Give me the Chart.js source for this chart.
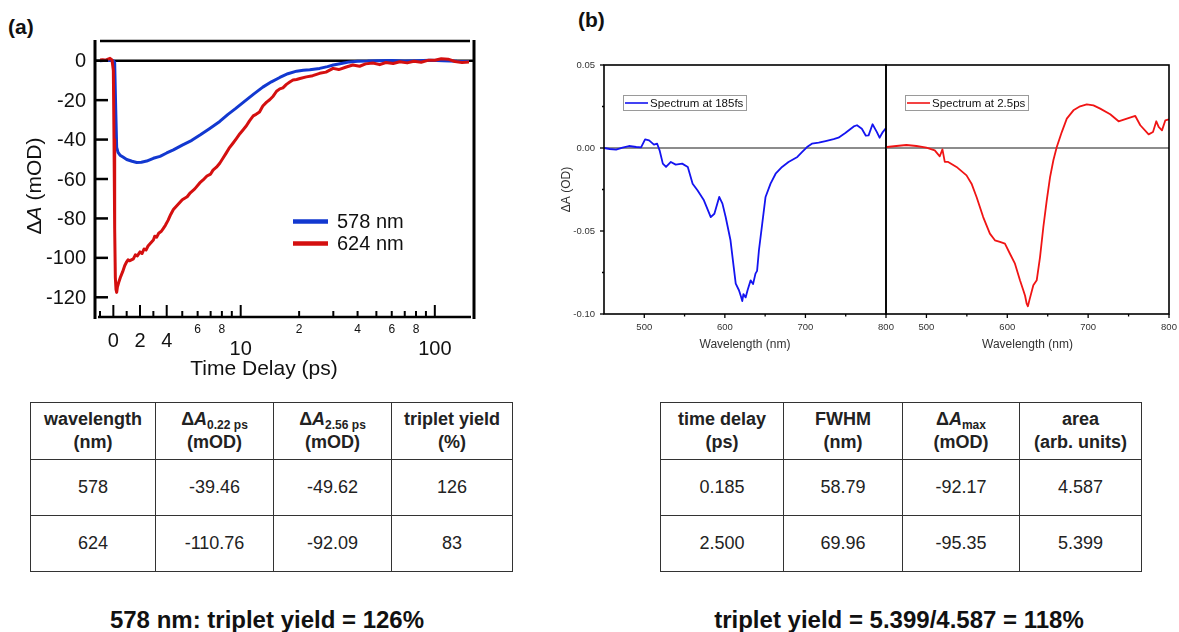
<!DOCTYPE html>
<html>
<head>
<meta charset="utf-8">
<script src="https://cdn.jsdelivr.net/npm/chart.js@4.4.1/dist/chart.umd.min.js"></script>
<style>
  html, body { margin: 0; padding: 0; background: #fff; }
  body { width: 1179px; height: 632px; position: relative; overflow: hidden;
         font-family: "Liberation Sans", Arial, sans-serif; color: #111; }
  canvas { position: absolute; }
  .panel { position: absolute; font-weight: bold; font-size: 21px; color: #111; }
  .tbl { position: absolute; border-collapse: collapse; table-layout: fixed;
         font-size: 18px; color: #222; }
  .tbl td, .tbl th { border: 1px solid #333; text-align: center; padding: 0; }
  .tbl th { font-weight: bold; line-height: 23px; }
  .tbl tr.hd { height: 57px; }
  .tbl tr.row { height: 56px; }
  .tbl sub { font-size: 12px; vertical-align: -4px; line-height: 0; }
  .note { position: absolute; width: 460px; text-align: center; font-weight: bold;
          font-size: 24px; line-height: 28px; color: #111; }
</style>
</head>
<body>
<div class="panel" style="left:8px;top:15px;">(a)</div>
<div class="panel" style="left:578px;top:8px;">(b)</div>
<canvas id="kinetics" width="560" height="390" style="left:0;top:0;"></canvas>
<canvas id="spec185" width="360" height="320" style="left:540px;top:40px;"></canvas>
<canvas id="spec2500" width="299" height="320" style="left:880px;top:40px;"></canvas>
<table id="tblKinetics" class="tbl" style="left:30px;top:402px;width:482px;"></table>
<table id="tblSpectra" class="tbl" style="left:660px;top:402px;width:481px;"></table>
<div class="note" style="left:37px;top:606px;">578 nm: triplet yield = 126%</div>
<div class="note" style="left:669px;top:606px;">triplet yield = 5.399/4.587 = 118%</div>

<script>
// ---------- (a) kinetic traces, ΔA in mOD vs time delay in ps ----------
const timeBlue = [-1, -0.5, 0, 0.1, 0.18, 0.25, 0.35, 0.5, 0.75,
  1.0, 1.4, 1.75, 2.1, 2.5, 3.0, 3.5, 4.0, 4.5, 5.0,
  5.6, 6.2, 6.9, 7.8, 8.6, 9.4, 10.5, 11.7, 13.0, 14.4,
  15.9, 17.5, 19.4, 21.0, 22.7, 25.5, 28, 30, 33, 36.4,
  40, 45, 50, 60, 70, 80, 95, 110, 130, 150];
const dA578 = [0, 0.2, 0, -1, -25, -44, -46.5, -47.9, -49,
  -50.1, -51, -51.6, -51.5, -50.9, -49.5, -48.5, -46.8, -45.2, -42.8,
  -40.4, -37.6, -34.5, -30.8, -27.2, -24.3, -20.5, -16.8, -13.4, -10.7,
  -8.5, -6.6, -5.3, -4.8, -4.6, -3.9, -3, -2.2, -1.4, -0.6,
  -0.3, -0.2, 0, 0.1, -0.2, 0, 0.2, 0, -0.3, -0.4];

const timeRed = [-1, -0.8, -0.6, -0.4, -0.25, -0.1, 0, 0.05, 0.1, 0.15,
  0.2, 0.25, 0.3, 0.4, 0.55, 0.7, 0.85, 1.0, 1.1, 1.2,
  1.5, 1.65, 1.8, 2.0, 2.15, 2.3, 2.45, 2.6, 2.8, 3.0,
  3.1, 3.25, 3.4, 3.6, 3.75, 3.9, 4.1, 4.3, 4.5, 5.0,
  5.3, 5.5, 5.8, 6.15, 6.4, 6.7, 7.0, 7.2, 7.5, 7.8,
  8.1, 8.4, 8.7, 9.1, 9.5, 9.9, 10.3, 10.7, 11.1, 11.6,
  12.0, 12.5, 13.0, 13.6, 14.1, 14.7, 15.3, 15.9, 16.5, 17.2,
  17.9, 18.6, 19.4, 20.2, 21.8, 23.5, 25.5, 27.5, 29.9, 32,
  35, 37.8, 41, 44, 48, 52, 56, 61, 66, 72,
  78, 85, 92, 100, 108, 117, 127, 138, 150];
const dA624 = [0.3, 0.5, 0.2, 0.8, 1.2, 0.4, -5, -40, -85, -110,
  -116, -117.5, -115, -112.5, -109.5, -107, -104, -102, -101, -101.5,
  -100.5, -98.5, -99, -97, -97.8, -95.5, -96, -94, -92.5, -91,
  -89, -89.5, -87.5, -86.5, -85, -83.5, -81, -78, -75.5, -70.5,
  -69, -67, -65, -62, -60.5, -58.5, -57.5, -55.5, -54, -52,
  -49.5, -47, -44.5, -42, -39.5, -37, -35, -33, -30.5, -28,
  -27.2, -26, -23, -21, -19.8, -18, -15.5, -14.3, -13.8, -12,
  -10.8, -9.8, -9.5, -9, -8.2, -7.6, -6.4, -5.8, -3.9, -4.5,
  -3.2, -2.2, -2.8, -1.6, -1.2, -2.0, -0.9, -1.4, -0.5, -1.1,
  -0.3, -0.8, 0.2, 0.2, 1.0, 0.8, -0.4, -0.9, -0.6];

const timeRange = [-1, 150];
const dARange = [-130, 10];
const dATicks = [0, -20, -40, -60, -80, -100, -120];
const timeMajorTicks = [0, 2, 4, 10, 100];
const timeMinorTicks = [-1, 1, 3, 5, 6, 7, 8, 9, 20, 30, 40, 50, 60, 70, 80, 90];
const timeLinearLabels = ['0', '2', '4'];         // at 0, 2, 4 ps
const timeDecadeLabels = ['10', '100'];           // at 10, 100 ps
const timeSmallTicks = [6, 8, 20, 40, 60, 80];
const timeSmallLabels = ['6', '8', '2', '4', '6', '8'];
const traceNames = ['578 nm', '624 nm'];

// ---------- (b) transient spectra, ΔA in OD vs wavelength ----------
const wl185 = [450, 457, 465, 473, 481, 490, 496, 501, 506, 512,
  516, 519, 523, 527, 533, 539, 547, 554, 560, 566,
  574, 582.5, 587, 593, 597, 601, 607, 611, 613.5, 617.5,
  620, 621.6, 623, 625.8, 628, 632, 635, 638, 640, 642.3,
  646.4, 650.5, 656.7, 663, 671, 679, 690, 696, 702, 708,
  716.5, 725, 735, 741, 749.5, 760, 764, 770, 775, 778.4,
  783.3, 788.7, 792, 796, 800];
const dA185 = [0, -0.0006, -0.001, 0.0002, 0.0012, 0.0006, 0.0004, 0.0052, 0.0046, 0.002,
  0.0026, -0.0014, -0.0094, -0.0114, -0.0084, -0.010, -0.0094, -0.0114, -0.0215, -0.0255,
  -0.0315, -0.0416, -0.0396, -0.0295, -0.0335, -0.0416, -0.0556, -0.0717, -0.0817, -0.0857,
  -0.0895, -0.0922, -0.0880, -0.0900, -0.0860, -0.0797, -0.0820, -0.0757, -0.0740, -0.0616,
  -0.0456, -0.0295, -0.0215, -0.0155, -0.0114, -0.0084, -0.0054, -0.0024, 0.0006, 0.0026,
  0.0032, 0.0042, 0.0054, 0.0062, 0.009, 0.013, 0.0137, 0.0116, 0.0074, 0.0076,
  0.0143, 0.0096, 0.0062, 0.0096, 0.012];

const wl2500 = [450, 451.2, 462.8, 475.2, 487.6, 500, 510.3, 516.5, 519.8, 522.7,
  526.9, 537.2, 549.6, 555.8, 562, 570.2, 578.5, 584.7, 590.9, 597.1,
  603.3, 609.5, 615.7, 619.8, 622, 624, 625.5, 627.3, 632.2, 636.4,
  640.5, 644.6, 648.8, 652.9, 657, 661.2, 667.4, 673.6, 681.8, 690.1,
  698.3, 706.6, 714.9, 727.3, 737.6, 747.9, 758.3, 764.5, 774.8, 780.2,
  784.3, 787.2, 791.3, 795.5, 800];
const dA2500 = [0.0005, 0.0006, 0.0012, 0.0018, 0.0012, 0.0002, -0.0014, -0.005, -0.0008, -0.0084,
  -0.0084, -0.0114, -0.0165, -0.0215, -0.0295, -0.0416, -0.0516, -0.0556, -0.0566, -0.0576,
  -0.0637, -0.0697, -0.0797, -0.0857, -0.0890, -0.0938, -0.09535, -0.0918, -0.0827, -0.0797,
  -0.0657, -0.0476, -0.0315, -0.0175, -0.0074, 0.0006, 0.0096, 0.0177, 0.0227, 0.0251,
  0.0263, 0.0257, 0.0237, 0.0203, 0.0161, 0.0177, 0.0193, 0.0137, 0.0082, 0.0096,
  0.0161, 0.0127, 0.0106, 0.0167, 0.0173];

const wlRange = [450, 800];
const odRange = [-0.10, 0.05];
const odTicks = [0.05, 0.00, -0.05, -0.10];
const odTickLabels = ['0.05', '0.00', '-0.05', '-0.10'];
const odMinorTicks = [0.025, -0.025, -0.075];
const wlTicks = [500, 600, 700, 800];
const wlMinorTicks = [550, 650, 750];
const spectrumNames = ['Spectrum at 185fs', 'Spectrum at 2.5ps'];

// ---------- tables ----------
const kinHeader = ['wavelength<br>(nm)', 'Δ<i>A</i><sub>0.22 ps</sub><br>(mOD)',
  'Δ<i>A</i><sub>2.56 ps</sub><br>(mOD)', 'triplet yield<br>(%)'];
const kinWavelength = ['578', '624'];
const kinDA022 = ['-39.46', '-110.76'];
const kinDA256 = ['-49.62', '-92.09'];
const kinYield = ['126', '83'];
const specHeader = ['time delay<br>(ps)', 'FWHM<br>(nm)', 'Δ<i>A</i><sub>max</sub><br>(mOD)',
  'area<br>(arb. units)'];
const specDelay = ['0.185', '2.500'];
const specFWHM = ['58.79', '69.96'];
const specDAmax = ['-92.17', '-95.35'];
const specArea = ['4.587', '5.399'];

function fillTable(id, widths, header, cols) {
  const t = document.getElementById(id);
  let html = '<colgroup>' + widths.map(w => `<col style="width:${w}px">`).join('') + '</colgroup>';
  html += '<tr class="hd">' + header.map(h => `<th>${h}</th>`).join('') + '</tr>';
  for (let r = 0; r < cols[0].length; r++) {
    html += '<tr class="row">' + cols.map(c => `<td>${c[r]}</td>`).join('') + '</tr>';
  }
  t.innerHTML = html;
}
fillTable('tblKinetics', [125, 118, 118, 121], kinHeader, [kinWavelength, kinDA022, kinDA256, kinYield]);
fillTable('tblSpectra', [123, 119, 117, 122], specHeader, [specDelay, specFWHM, specDAmax, specArea]);

// ---------- split time axis: linear up to 4.5 ps, logarithmic beyond ----------
const SPLIT = 4.5, DECADE = 14.55;
const toU = t => t <= SPLIT ? t : SPLIT + DECADE * Math.log10(t / SPLIT);
const fromU = u => u <= SPLIT ? u : SPLIT * Math.pow(10, (u - SPLIT) / DECADE);

class SplitTimeScale extends Chart.LinearScale {
  static id = 'splitTime';
  static defaults = {};
  configure() {
    super.configure();
    this._u0 = toU(this.min);
    this._u1 = toU(this.max);
  }
  getPixelForValue(value) {
    if (value === null || value === undefined) return NaN;
    return this.getPixelForDecimal((toU(value) - this._u0) / (this._u1 - this._u0));
  }
  getValueForPixel(pixel) {
    return fromU(this._u0 + this.getDecimalForPixel(pixel) * (this._u1 - this._u0));
  }
}
Chart.register(SplitTimeScale);

const FONT = '"Liberation Sans", Arial, sans-serif';
function seg(ctx, x1, y1, x2, y2) { ctx.beginPath(); ctx.moveTo(x1, y1); ctx.lineTo(x2, y2); ctx.stroke(); }

const BLUE = '#1238d0', RED = '#d40f0f';

const kineticsAxes = {
  id: 'kineticsAxes',
  beforeDatasetsDraw(chart) {
    const { ctx, chartArea: ca, scales: { y } } = chart;
    ctx.save();
    ctx.strokeStyle = '#000'; ctx.lineWidth = 2.5;
    const y0 = y.getPixelForValue(0);
    seg(ctx, ca.left - 5, y0, ca.right + 4, y0);
    ctx.restore();
  },
  afterDatasetsDraw(chart) {
    const { ctx, chartArea: ca, scales: { x, y } } = chart;
    ctx.save();
    ctx.strokeStyle = '#000'; ctx.fillStyle = '#111';
    // frame
    ctx.lineWidth = 3;
    seg(ctx, ca.left - 5, ca.top - 1, ca.left - 5, ca.bottom + 2);
    seg(ctx, ca.right + 5, ca.top - 1, ca.right + 5, ca.bottom + 2);
    ctx.lineWidth = 2.5;
    seg(ctx, ca.left, ca.top, ca.right + 1, ca.top);
    seg(ctx, ca.left - 2, ca.bottom, ca.right + 2, ca.bottom);
    // y ticks (inward) and labels
    ctx.font = '20px ' + FONT; ctx.textAlign = 'right'; ctx.textBaseline = 'middle';
    dATicks.forEach(v => {
      const py = y.getPixelForValue(v);
      seg(ctx, ca.left - 5, py, ca.left + 8, py);
      ctx.fillText(String(v), ca.left - 14, py + 1);
    });
    // x ticks (upward from the bottom axis)
    ctx.lineWidth = 2;
    timeMajorTicks.forEach(v => { const px = x.getPixelForValue(v); seg(ctx, px, ca.bottom, px, ca.bottom - 12); });
    timeMinorTicks.forEach(v => { const px = x.getPixelForValue(v); seg(ctx, px, ca.bottom, px, ca.bottom - 6); });
    ctx.textAlign = 'center';
    ctx.font = '20px ' + FONT;
    timeLinearLabels.forEach((s, i) => ctx.fillText(s, x.getPixelForValue(timeMajorTicks[i]), ca.bottom + 24));
    timeDecadeLabels.forEach((s, i) => ctx.fillText(s, x.getPixelForValue(timeMajorTicks[3 + i]), ca.bottom + 32));
    ctx.font = '12px ' + FONT;
    timeSmallLabels.forEach((s, i) => ctx.fillText(s, x.getPixelForValue(timeSmallTicks[i]), ca.bottom + 13));
    // axis titles
    ctx.font = '21px ' + FONT;
    ctx.fillText('Time Delay (ps)', 264, ca.bottom + 52);
    ctx.save();
    ctx.translate(35, 186); ctx.rotate(-Math.PI / 2);
    const parts = [['Δ', '21px '], ['A', 'italic 21px '], [' (mOD)', '21px ']];
    let total = 0;
    parts.forEach(p => { ctx.font = p[1] + FONT; total += ctx.measureText(p[0]).width; });
    let cx = -total / 2; ctx.textAlign = 'left';
    parts.forEach(p => { ctx.font = p[1] + FONT; ctx.fillText(p[0], cx, 0); cx += ctx.measureText(p[0]).width; });
    ctx.restore();
    // legend
    ctx.lineWidth = 4.5; ctx.font = '20px ' + FONT; ctx.textAlign = 'left';
    [[BLUE, 221.5], [RED, 243.5]].forEach((c, i) => {
      ctx.strokeStyle = c[0]; seg(ctx, 293, c[1], 328, c[1]);
      ctx.fillText(traceNames[i], 337, c[1] + 1);
    });
    ctx.restore();
  }
};

new Chart(document.getElementById('kinetics'), {
  type: 'line',
  data: {
    datasets: [
      { label: traceNames[1], data: timeRed.map((t, i) => ({ x: t, y: dA624[i] })),
        borderColor: RED, borderWidth: 3, order: 0 },
      { label: traceNames[0], data: timeBlue.map((t, i) => ({ x: t, y: dA578[i] })),
        borderColor: BLUE, borderWidth: 3, order: 1 }
    ]
  },
  options: {
    responsive: false, animation: false,
    layout: { padding: { left: 100, top: 41, right: 91, bottom: 73 } },
    elements: { point: { radius: 0 }, line: { tension: 0, borderJoinStyle: 'round', borderCapStyle: 'round' } },
    scales: {
      x: { type: 'splitTime', min: timeRange[0], max: timeRange[1], bounds: 'data', display: false },
      y: { type: 'linear', min: dARange[0], max: dARange[1], display: false }
    },
    plugins: { legend: { display: false }, tooltip: { enabled: false } }
  },
  plugins: [kineticsAxes]
});

// ---------- (b) spectra ----------
function spectrumFrame(showY, name, color) {
  return {
    id: 'spectrumFrame',
    beforeDatasetsDraw(chart) {
      const { ctx, chartArea: ca, scales: { y } } = chart;
      ctx.save();
      ctx.strokeStyle = '#8c8c8c'; ctx.lineWidth = 2;
      const y0 = y.getPixelForValue(0);
      seg(ctx, ca.left, y0, ca.right, y0);
      ctx.restore();
    },
    afterDatasetsDraw(chart) {
      const { ctx, chartArea: ca, scales: { x, y } } = chart;
      ctx.save();
      ctx.strokeStyle = '#000'; ctx.lineWidth = 1.6;
      ctx.strokeRect(ca.left, ca.top, ca.right - ca.left, ca.bottom - ca.top);
      ctx.lineWidth = 1.3;
      wlTicks.forEach(v => { const px = x.getPixelForValue(v); seg(ctx, px, ca.bottom, px, ca.bottom + 4); });
      wlMinorTicks.forEach(v => { const px = x.getPixelForValue(v); seg(ctx, px, ca.bottom, px, ca.bottom + 2.5); });
      ctx.fillStyle = '#333';
      ctx.font = '9.5px ' + FONT; ctx.textAlign = 'center'; ctx.textBaseline = 'middle';
      wlTicks.forEach(v => ctx.fillText(String(v), x.getPixelForValue(v), ca.bottom + 13));
      ctx.font = '12px ' + FONT;
      ctx.fillText('Wavelength (nm)', (ca.left + ca.right) / 2, ca.bottom + 31);
      if (showY) {
        odTicks.forEach((v, i) => {
          const py = y.getPixelForValue(v);
          seg(ctx, ca.left - 4, py, ca.left, py);
          ctx.font = '9.5px ' + FONT; ctx.textAlign = 'right';
          ctx.fillText(odTickLabels[i], ca.left - 9, py);
        });
        odMinorTicks.forEach(v => { const py = y.getPixelForValue(v); seg(ctx, ca.left - 2, py, ca.left, py); });
        ctx.save();
        ctx.translate(ca.left - 37, (ca.top + ca.bottom) / 2); ctx.rotate(-Math.PI / 2);
        ctx.font = '12px ' + FONT; ctx.textAlign = 'center';
        ctx.fillText('ΔA (OD)', 0, 0);
        ctx.restore();
      }
      // legend box
      const bx = ca.left + 19, by = ca.top + 30, bw = 123, bh = 15;
      ctx.fillStyle = '#fff'; ctx.fillRect(bx, by, bw, bh);
      ctx.strokeStyle = '#9a9a9a'; ctx.lineWidth = 1; ctx.strokeRect(bx + 0.5, by + 0.5, bw, bh);
      ctx.strokeStyle = color; ctx.lineWidth = 1.6;
      seg(ctx, bx + 2, by + 8, bx + 25, by + 8);
      ctx.fillStyle = '#111'; ctx.font = '11.5px ' + FONT; ctx.textAlign = 'left';
      ctx.fillText(name, bx + 27, by + 8.5);
      ctx.restore();
    }
  };
}

function spectrumChart(id, wl, dA, color, name, padding, showY) {
  return new Chart(document.getElementById(id), {
    type: 'line',
    data: { datasets: [{ label: name, data: wl.map((w, i) => ({ x: w, y: dA[i] })),
      borderColor: color, borderWidth: 1.8 }] },
    options: {
      responsive: false, animation: false,
      layout: { padding },
      elements: { point: { radius: 0 }, line: { tension: 0, borderJoinStyle: 'round' } },
      scales: {
        x: { type: 'linear', min: wlRange[0], max: wlRange[1], display: false },
        y: { type: 'linear', min: odRange[0], max: odRange[1], display: false }
      },
      plugins: { legend: { display: false }, tooltip: { enabled: false } }
    },
    plugins: [spectrumFrame(showY, name, color)]
  });
}
spectrumChart('spec185', wl185, dA185, '#1414f0', spectrumNames[0],
  { left: 64, top: 25, right: 14, bottom: 46 }, true);
spectrumChart('spec2500', wl2500, dA2500, '#f01414', spectrumNames[1],
  { left: 6, top: 25, right: 10, bottom: 46 }, false);
</script>
</body>
</html>
